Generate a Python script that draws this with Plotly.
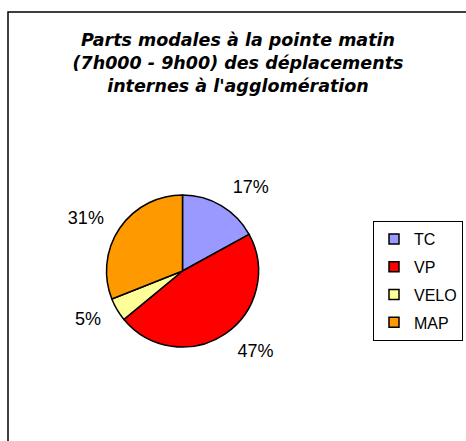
import plotly.graph_objects as go

labels = ["TC", "VP", "VELO", "MAP"]
values = [17, 47, 5, 31]
colors = ["#9999FF", "#FF0000", "#FFFF99", "#FF9900"]
title_lines = ["Parts modales à la pointe matin",
               "(7h000 - 9h00) des déplacements",
               "internes à l'agglomération"]

W, H = 466, 441
cx, cy, r = 182.5, 271, 76      # pie centre / radius in px
r_lab = 89                      # radius at which outside labels are anchored


def dom(rad):
    return dict(x=[(cx - rad) / W, (cx + rad) / W],
                y=[(H - cy - rad) / H, (H - cy + rad) / H])


fig = go.Figure()

# label-carrying transparent pie (same values, slightly larger) -> labels further out
fig.add_trace(go.Pie(
    labels=labels, values=values, sort=False, direction="clockwise", rotation=0,
    marker=dict(colors=["rgba(0,0,0,0)"] * len(labels), line=dict(width=0)),
    textinfo="percent", textposition="outside", texttemplate="%{percent:.0%}",
    textfont=dict(family="Liberation Sans, Arial", size=18, color="black"),
    domain=dom(r_lab), showlegend=False, hoverinfo="skip",
))

# visible pie
fig.add_trace(go.Pie(
    labels=labels, values=values, sort=False, direction="clockwise", rotation=0,
    marker=dict(colors=colors, line=dict(color="black", width=1.5)),
    textinfo="none", domain=dom(r), showlegend=False, hoverinfo="skip",
))

# legend entries
for lab, col in zip(labels, colors):
    fig.add_trace(go.Scatter(
        x=[None], y=[None], mode="markers", name=lab, legendgroup=lab,
        marker=dict(symbol="square", size=10, color=col,
                    line=dict(color="black", width=1.5)),
        hoverinfo="skip",
    ))

fig.update_layout(
    width=W, height=H,
    margin=dict(l=0, r=0, t=0, b=0),
    paper_bgcolor="white", plot_bgcolor="white",
    font=dict(family="Liberation Sans, Arial", color="black"),
    xaxis=dict(visible=False), yaxis=dict(visible=False),
    title=dict(text="<b><i>" + "<br>".join(title_lines) + "</i></b>",
               x=238 / W, xanchor="center", y=1 - 46 / H, yanchor="top",
               font=dict(family="DejaVu Sans, Verdana", size=17.5, color="black")),
    legend=dict(x=373 / W, y=1 - 221 / H, xanchor="left", yanchor="top",
                traceorder="grouped", tracegroupgap=4,
                bordercolor="black", borderwidth=1, bgcolor="white",
                font=dict(family="Liberation Sans, Arial", size=16, color="black")),
    shapes=[dict(type="rect", xref="paper", yref="paper",
                 x0=8 / W, y0=-0.05, x1=1.05, y1=1 - 12 / H,
                 line=dict(color="black", width=1.5))],
)

fig.write_html("out.html", config={"displayModeBar": False},
               post_script="document.body.style.margin='0';document.body.style.overflow='hidden';")
